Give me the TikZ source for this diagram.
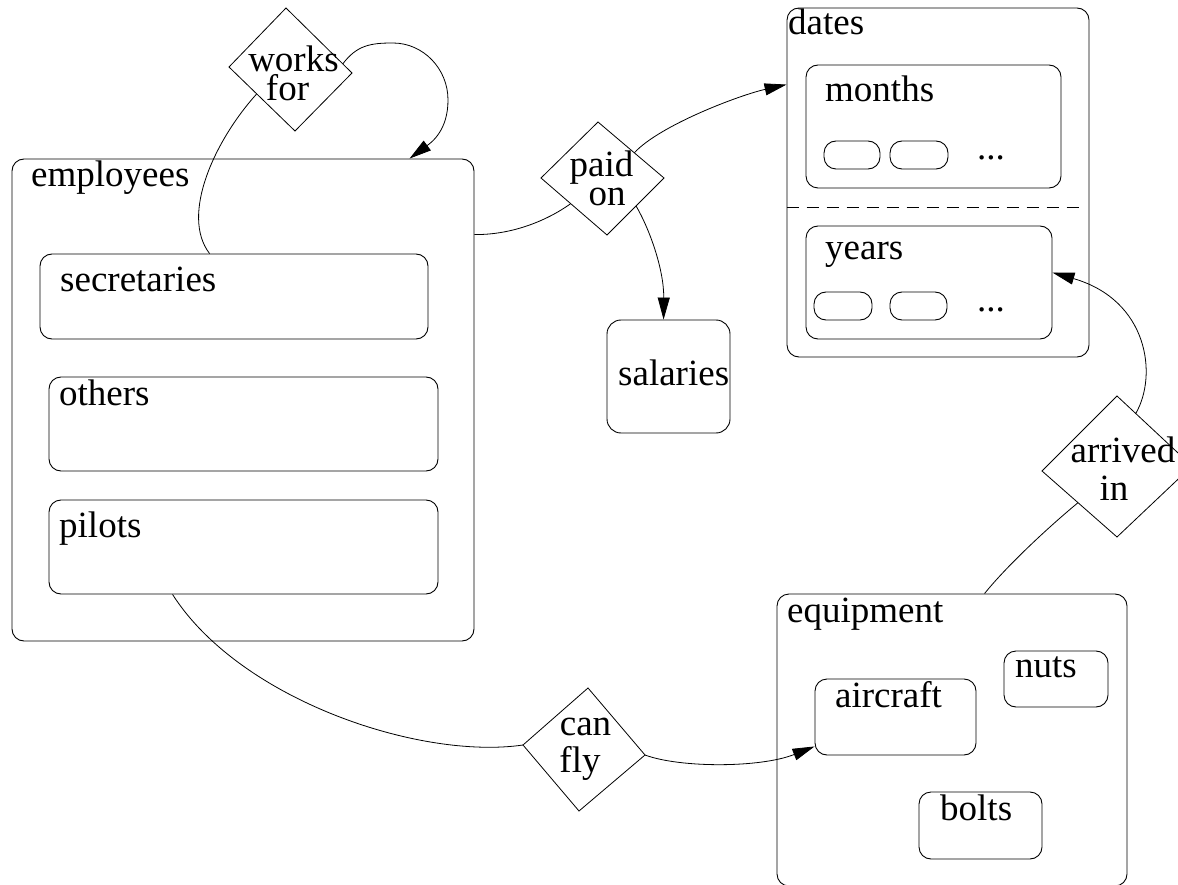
\documentclass[tikz,border=0pt]{standalone}
\usepackage{fontspec}
\setmainfont{Liberation Serif}
\usetikzlibrary{arrows.meta,calc,fit}
\begin{document}
\begin{tikzpicture}[x=1pt,y=-1pt,
  box/.style={draw, rectangle, rounded corners=12pt, inner sep=0pt, line width=0.9pt},
  pill/.style={draw, rectangle, rounded corners=12pt, inner sep=0pt, line width=0.9pt},
  lbl/.style={anchor=base west, inner sep=0pt, font=\fontsize{37}{37}\selectfont},
  dtxt/.style={anchor=base, inner sep=0pt, font=\fontsize{37}{37}\selectfont},
  conn/.style={line width=0.8pt},
  arr/.style={conn, -{Triangle[length=22pt,width=12pt]}},
  diam/.style={line width=0.8pt, line join=miter}
]
\useasboundingbox (0,0) rectangle (1178,885);

% ---- boxes
\node[box, fit={(12,159) (474,641)}] (emp) {};
\node[box, fit={(40,254) (428,339)}] (sec) {};
\node[box, fit={(49,377) (438,471)}] (oth) {};
\node[box, fit={(49,500) (438,594)}] (pil) {};
\node[box, rounded corners=14pt, fit={(607,320) (730,433)}] (sal) {};
\node[box, fit={(787,8) (1089,357)}] (dates) {};
\node[box, fit={(806,65) (1061,188)}] (mon) {};
\node[box, fit={(806,226) (1052,339)}] (yea) {};
\node[pill, fit={(824,141) (880,169)}] (mp1) {};
\node[pill, fit={(890,141) (948,169)}] (mp2) {};
\node[pill, fit={(814,292) (872,320)}] (yp1) {};
\node[pill, fit={(890,292) (947,320)}] (yp2) {};
\node[box, fit={(777,594) (1127,886)}] (eq) {};
\node[box, fit={(1004,651) (1108,707)}] (nut) {};
\node[box, fit={(815,679) (976,755)}] (air) {};
\node[box, fit={(919,792) (1042,859)}] (bol) {};

% dashed separator in dates
\draw[line width=0.8pt, dash pattern=on 12pt off 8pt] (dates.west |- 0,207) -- (1080,207);

% ---- labels
\node[lbl] (empL) at (31,187) {employees};
\node[lbl] (secL) at (60,292) {secretaries};
\node[lbl] (othL) at (59,405) {others};
\node[lbl] (pilL) at (59,537) {pilots};
\node[lbl] (datL) at (788,35) {dates};
\node[lbl] (monL) at (825,102) {months};
\node[lbl] (yeaL) at (825,260) {years};
\node[lbl] (salL) at (618,385) {salaries};
\node[lbl] (eqL) at (787,622) {equipment};
\node[lbl] (nutL) at (1015,677) {nuts};
\node[lbl] (airL) at (835,707) {aircraft};
\node[lbl] (bolL) at (940,820) {bolts};
\node[lbl] (mdots) at (977,160) {...};
\node[lbl] (ydots) at (977,312) {...};

% ---- diamonds
\coordinate (wfT) at (286,8);   \coordinate (wfR) at (352,73);
\coordinate (wfB) at (295,131); \coordinate (wfL) at (229,67);
\coordinate (poT) at (598,122); \coordinate (poR) at (664,178);
\coordinate (poB) at (607,235); \coordinate (poL) at (541,178);
\coordinate (cfT) at (588,688); \coordinate (cfR) at (645,755);
\coordinate (cfB) at (579,811); \coordinate (cfL) at (523,745);
\coordinate (aiT) at (1117,396); \coordinate (aiR) at (1192,466);
\coordinate (aiB) at (1117,537); \coordinate (aiL) at (1042,471);
\draw[diam] (wfT) -- (wfR) -- (wfB) -- (wfL) -- cycle;
\draw[diam] (poT) -- (poR) -- (poB) -- (poL) -- cycle;
\draw[diam] (cfT) -- (cfR) -- (cfB) -- (cfL) -- cycle;
\draw[diam] (aiT) -- (aiR) -- (aiB) -- (aiL) -- cycle;

\node[dtxt] (wf1) at (293.5,72) {works};
\node[dtxt] (wf2) at (287.5,101) {for};
\node[dtxt] (po1) at (601.5,177) {paid};
\node[dtxt] (po2) at (607,206) {on};
\node[dtxt] (cf1) at (585.5,735) {can};
\node[dtxt] (cf2) at (580,772) {fly};
\node[dtxt] (ai1) at (1123,462) {arrived};
\node[dtxt] (ai2) at (1114,500) {in};

% ---- connectors
% works for
\draw[conn] ($(sec.north west)+(170,0)$) .. controls (180,215) and (215,140) .. ($(wfL)!0.42!(wfB)$);
\draw[arr] ($(wfT)!0.86!(wfR)$) .. controls (357,45) and (371,43) .. (393,43)
   .. controls (423,43) and (448,68.5) .. (448,100)
   .. controls (448,130) and (432,142) .. ($(emp.north west)+(398,0)$);
% paid on
\draw[conn] ($(emp.north east)+(0,76)$) .. controls (510,235) and (545,222) .. ($(poL)!0.45!(poB)$);
\draw[arr] ($(poT)!0.55!(poR)$) .. controls (660,125) and (740,95) .. ($(dates.north west)+(0,77)$);
\draw[arr] ($(poR)!0.49!(poB)$) .. controls (650,230) and (664,270) .. ($(sal.north west)+(57,0)$);
% can fly
\draw[conn] ($(pil.south west)+(124,0)$) .. controls (240,700) and (420,760) .. (cfL);
\draw[arr] (cfR) .. controls (680,768) and (760,768) .. ($(air.south west)+(0,-9)$);
% arrived in
\draw[conn] ($(eq.north west)+(208,0)$) .. controls (1005,568) and (1045,530) .. ($(aiL)!0.48!(aiB)$);
\draw[arr] ($(aiT)!0.25!(aiR)$) .. controls (1158,375) and (1148,300) .. ($(yea.north east)+(0,47)$);
\end{tikzpicture}
\end{document}
